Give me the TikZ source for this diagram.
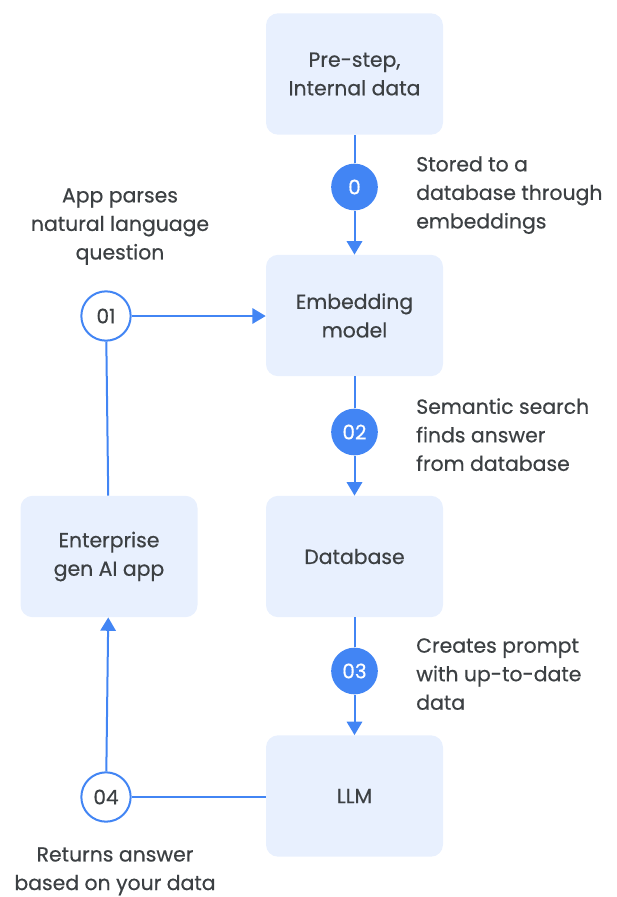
\documentclass[tikz,border=0pt]{standalone}
\usepackage{fontspec}
\newfontfamily\medfont{Poppins}[FakeBold=0.5]
\usetikzlibrary{arrows.meta}
\definecolor{boxfill}{HTML}{E8F0FE}
\definecolor{gblue}{HTML}{4285F4}
\definecolor{txt}{HTML}{3C4043}
\newcommand{\mfont}[1]{\medfont\fontsize{#1}{21.4}\selectfont}
\tikzset{
  stepbox/.style={fill=boxfill, draw=none, rounded corners=9pt, minimum width=132.75pt, minimum height=91pt, align=center, text=txt, font=\mfont{15.3}},
  numfill/.style={circle, fill=gblue, minimum size=35pt, inner sep=0pt, text=white, font=\mfont{15}},
  numopen/.style={circle, draw=gblue, line width=1.5pt, fill=white, minimum size=37pt, inner sep=0pt, text=txt, font=\mfont{15}},
  lab/.style={text=txt, font=\mfont{15.3}, inner sep=0pt},
  conn/.style={draw=gblue, line width=1.5pt},
  arr/.style={conn, -{Triangle[length=10pt,width=11.5pt]}},
}
\begin{document}
\begin{tikzpicture}[x=0.75pt,y=-0.75pt]
\useasboundingbox (0,0) rectangle (617,897);
\node[stepbox] (pre) at (354.5,74) {Pre-step,\\Internal data};
\node[stepbox] (emb) at (354.5,315.5) {Embedding\\model};
\node[stepbox] (db) at (354.5,556.5) {Database};
\node[stepbox] (llm) at (354.5,796) {LLM};
\node[stepbox] (app) at (109,556.5) {Enterprise\\gen AI app};

\node[numfill] (n0) at (354.5,187) {0};
\node[numfill] (n2) at (354.5,432) {02};
\node[numfill] (n3) at (354.5,671) {03};
\node[numopen] (n1) at (106,316) {01};
\node[numopen] (n4) at (106,797) {04};

\draw[conn] (pre) -- (n0);
\draw[arr] (n0) -- (emb);
\draw[conn] (emb) -- (n2);
\draw[arr] (n2) -- (db);
\draw[conn] (db) -- (n3);
\draw[arr] (n3) -- (llm);
\draw[arr] (n1) -- (n1 -| emb.west);
\draw[conn] (n1) -- (app);
\draw[conn] (llm.west |- n4) -- (n4);
\draw[arr] (n4) -- (app);

\node[lab, anchor=north west, align=left] (t0) at (416,156) {Stored to a\\database through\\embeddings};
\node[lab, anchor=north, align=center] (t1) at (120,188) {App parses\\natural language\\question};
\node[lab, anchor=north west, align=left] (t2) at (416,398) {Semantic search\\finds answer\\from database};
\node[lab, anchor=north west, align=left] (t3) at (416,638) {Creates prompt\\with up-to-date\\data};
\node[lab, anchor=north, align=center] (t4) at (115,847) {Returns answer\\based on your data};
\end{tikzpicture}
\end{document}
